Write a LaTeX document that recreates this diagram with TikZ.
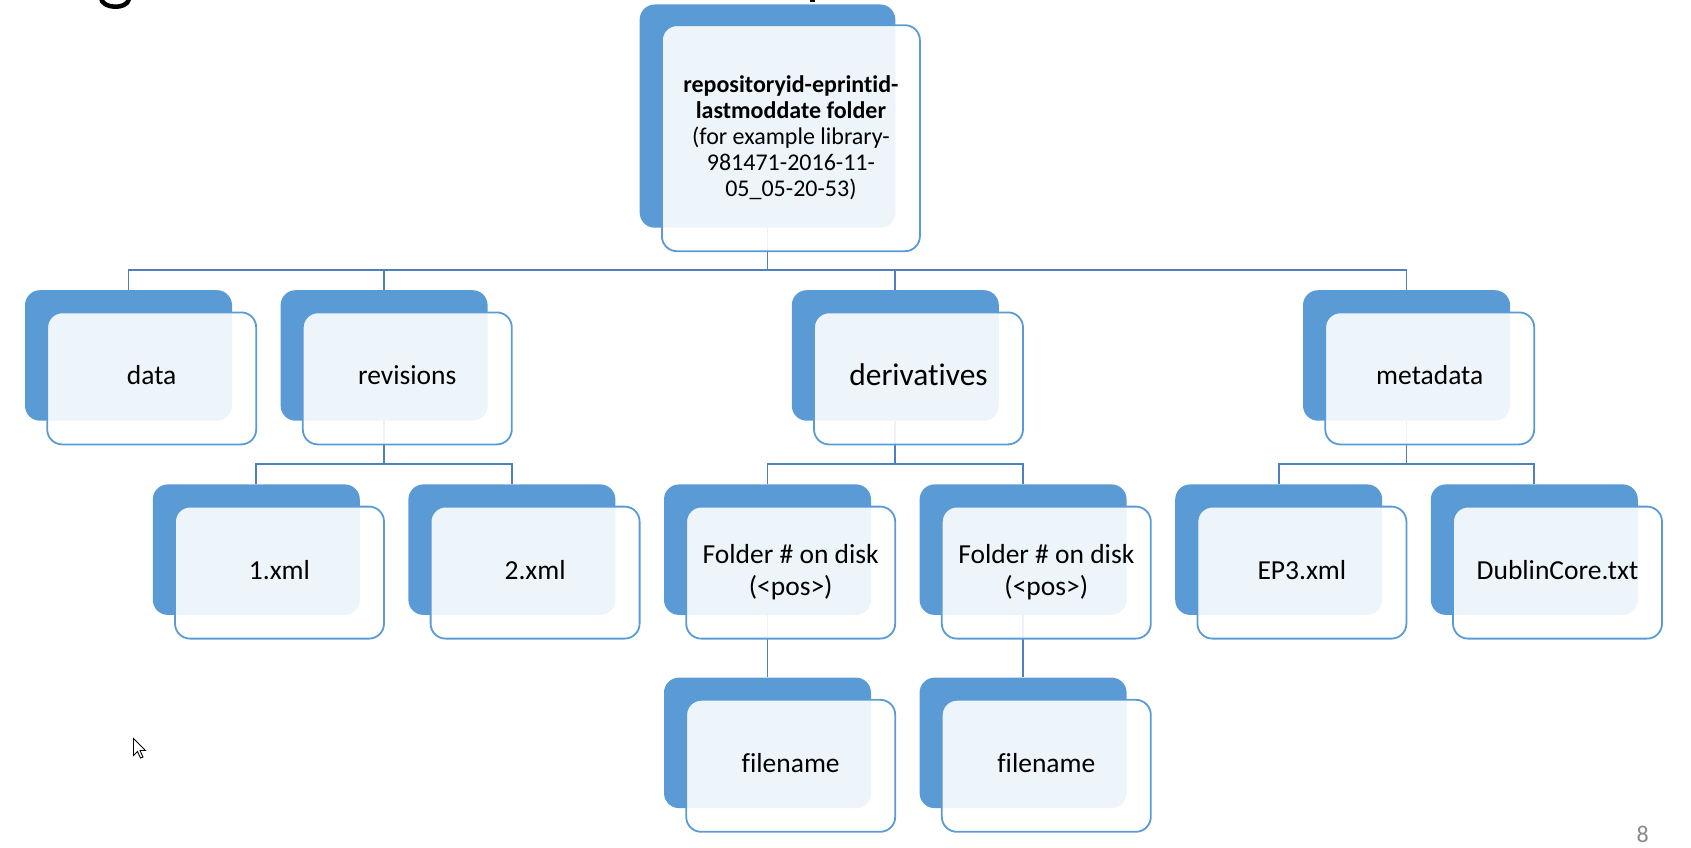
\documentclass[tikz,border=0pt]{standalone}
\usepackage{fontspec}
\setmainfont{Carlito}[Ligatures={NoCommon}]
\usetikzlibrary{calc}
\definecolor{accent}{HTML}{5B9BD5}
\definecolor{connc}{RGB}{78,128,190}
\definecolor{pagenum}{HTML}{898989}
\tikzset{
  backbox/.style={draw=none, fill=accent, rounded corners=15pt, minimum width=207pt, minimum height=130.5pt, inner sep=0pt, anchor=north west},
  frontbox/.style={draw=accent, line width=1.8pt, fill=white, fill opacity=0.9, text opacity=1, rounded corners=15pt, minimum width=209pt, minimum height=132pt, inner sep=0pt, align=center, anchor=north west, font=\fontsize{27.5}{32}\selectfont},
  oneline/.style={execute at begin node=\strut},
  conn/.style={draw=connc, line width=1.9pt},
}
\begin{document}
\begin{tikzpicture}[x=1pt,y=-1pt]
\useasboundingbox (0,0) rectangle (1691,848);
% clipped title fragments
\draw[line width=4.5pt, line cap=round] (101,-2) .. controls (102,9) and (127,10) .. (129,-1);
\fill (810,0) rectangle (815,2);
% back shapes
\node[backbox, minimum width=255.6pt, minimum height=223.2pt] (topB) at (639.5,4.3) {};
\node[backbox] (dataB) at (24.8,290) {};
\node[backbox] (revB) at (280.4,290) {};
\node[backbox] (derB) at (791.6,290) {};
\node[backbox] (metB) at (1302.8,290) {};
\node[backbox] (x1B) at (152.6,484.2) {};
\node[backbox] (x2B) at (408.2,484.2) {};
\node[backbox] (f1B) at (663.8,484.2) {};
\node[backbox] (f2B) at (919.4,484.2) {};
\node[backbox] (epB) at (1175,484.2) {};
\node[backbox] (dcB) at (1430.6,484.2) {};
\node[backbox] (n1B) at (663.8,677.4) {};
\node[backbox] (n2B) at (919.4,677.4) {};
% connectors
\coordinate (bus) at (0,270);
\coordinate (sub) at (0,463.7);
\draw[conn] (topB.south) -- (topB.south |- bus) -| (dataB.north);
\draw[conn] (topB.south) -- (topB.south |- bus) -| (revB.north);
\draw[conn] (topB.south) -- (topB.south |- bus) -| (derB.north);
\draw[conn] (topB.south) -- (topB.south |- bus) -| (metB.north);
\draw[conn] (revB.south) -- (revB.south |- sub) -| (x1B.north);
\draw[conn] (revB.south) -- (revB.south |- sub) -| (x2B.north);
\draw[conn] (derB.south) -- (derB.south |- sub) -| (f1B.north);
\draw[conn] (derB.south) -- (derB.south |- sub) -| (f2B.north);
\draw[conn] (metB.south) -- (metB.south |- sub) -| (epB.north);
\draw[conn] (metB.south) -- (metB.south |- sub) -| (dcB.north);
\draw[conn] (f1B.south) -- (n1B.north);
\draw[conn] (f2B.south) -- (n2B.north);
% front shapes
\node[frontbox, minimum width=258pt, minimum height=226pt, font=\fontsize{24}{26}\selectfont] (top) at ($(topB.north west)+(21.5,20)$)
  {\textbf{repositoryid-eprintid-}\\\textbf{lastmoddate folder}\\(for example library-\\981471-2016-11-\\05\_05-20-53)};
\node[frontbox, oneline] (data) at ($(dataB.north west)+(21.5,21.5)$) {data};
\node[frontbox, oneline] (rev) at ($(revB.north west)+(21.5,21.5)$) {revisions};
\node[frontbox, oneline, font=\fontsize{31.4}{36}\selectfont] (der) at ($(derB.north west)+(21.5,21.5)$) {derivatives};
\node[frontbox, oneline] (met) at ($(metB.north west)+(21.5,21.5)$) {metadata};
\node[frontbox, oneline] (x1) at ($(x1B.north west)+(21.5,21.5)$) {1.xml};
\node[frontbox, oneline] (x2) at ($(x2B.north west)+(21.5,21.5)$) {2.xml};
\node[frontbox] (f1) at ($(f1B.north west)+(21.5,21.5)$) {Folder \# on disk\\(<pos>)};
\node[frontbox] (f2) at ($(f2B.north west)+(21.5,21.5)$) {Folder \# on disk\\(<pos>)};
\node[frontbox, oneline] (ep) at ($(epB.north west)+(21.5,21.5)$) {EP3.xml};
\node[frontbox, oneline] (dc) at ($(dcB.north west)+(21.5,21.5)$) {DublinCore.txt};
\node[frontbox, oneline] (n1) at ($(n1B.north west)+(21.5,21.5)$) {filename};
\node[frontbox, oneline] (n2) at ($(n2B.north west)+(21.5,21.5)$) {filename};
% page number
\node[text=pagenum, font=\fontsize{24}{28}\selectfont, inner sep=0pt] (pnum) at (1642.7,834) {8};
% mouse cursor
\draw[black, fill=white, line width=0.9pt, line join=miter] (133.5,738.5) -- (133.5,755.5) -- (137.5,751.5) -- (140.5,758) -- (143,757) -- (140,750.5) -- (145.5,750.5) -- cycle;
\end{tikzpicture}
\end{document}
